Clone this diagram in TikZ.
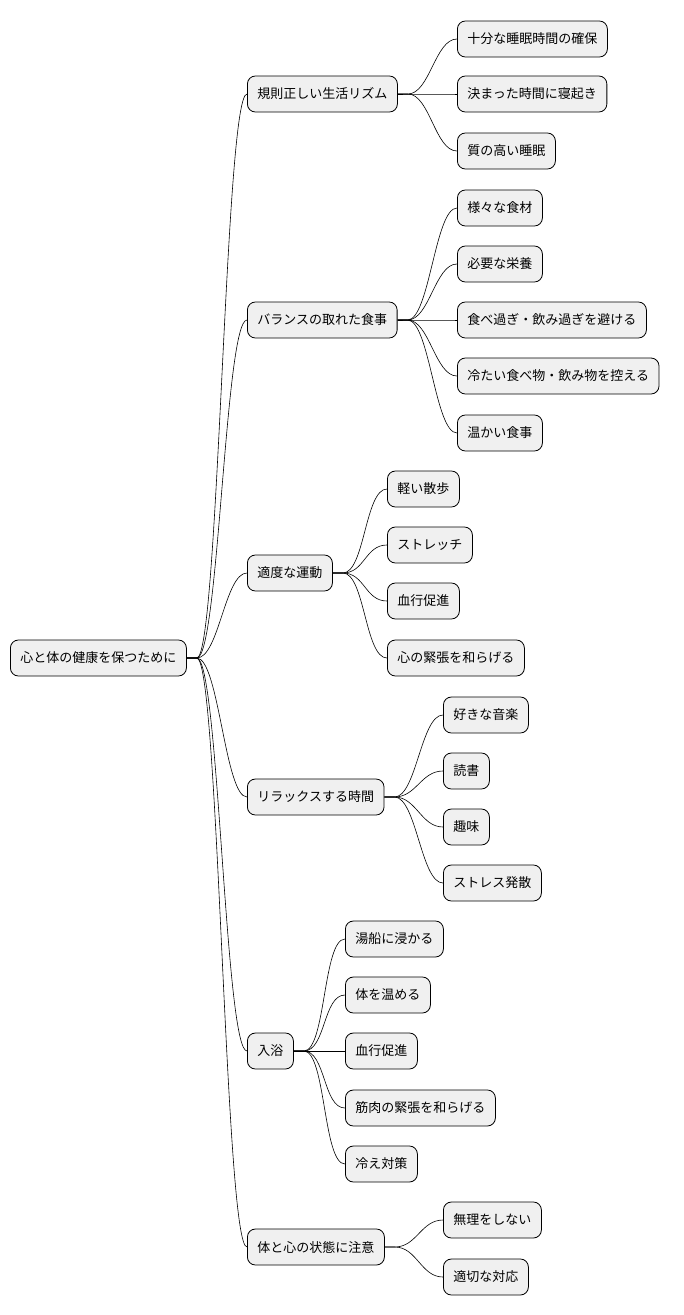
\documentclass[tikz,border=0pt]{standalone}
\usepackage{fontspec}
\newfontfamily\jp{Noto Sans CJK JP}
\begin{document}
\begin{tikzpicture}[x=1pt,y=-1pt,
  box/.style={draw=black,line width=0.8pt,fill=gray!12,rounded corners=8pt,minimum height=36pt,inner xsep=10pt,anchor=west,font=\jp\fontsize{13}{15}\selectfont},
  edge/.style={line width=0.6pt}]
\useasboundingbox (0,0) rectangle (684,1315);
\node[box] (r) at (10,658) {心と体の健康を保つために};
\node[box] (a) at (247,94) {規則正しい生活リズム};
\node[box] (b) at (247,320) {バランスの取れた食事};
\node[box] (c) at (247,573) {適度な運動};
\node[box] (d) at (247,797) {リラックスする時間};
\node[box] (e) at (247,1051) {入浴};
\node[box] (f) at (247,1247) {体と心の状態に注意};
\foreach \n in {a,b,c,d,e,f}{\draw[edge] (r.east) -- ++(10,0) .. controls +(22,0) and +(-22,0) .. (\n.west);}
\node[box] (a1) at (457,39) {十分な睡眠時間の確保};
\node[box] (a2) at (457,94) {決まった時間に寝起き};
\node[box] (a3) at (457,151) {質の高い睡眠};
\node[box] (b1) at (457,208) {様々な食材};
\node[box] (b2) at (457,264) {必要な栄養};
\node[box] (b3) at (457,320) {食べ過ぎ・飲み過ぎを避ける};
\node[box] (b4) at (457,376) {冷たい食べ物・飲み物を控える};
\node[box] (b5) at (457,433) {温かい食事};
\node[box] (c1) at (387,489) {軽い散歩};
\node[box] (c2) at (387,545) {ストレッチ};
\node[box] (c3) at (387,601) {血行促進};
\node[box] (c4) at (387,658) {心の緊張を和らげる};
\node[box] (d1) at (443,715) {好きな音楽};
\node[box] (d2) at (443,771) {読書};
\node[box] (d3) at (443,827) {趣味};
\node[box] (d4) at (443,883) {ストレス発散};
\node[box] (e1) at (345,939) {湯船に浸かる};
\node[box] (e2) at (345,995) {体を温める};
\node[box] (e3) at (345,1051) {血行促進};
\node[box] (e4) at (345,1108) {筋肉の緊張を和らげる};
\node[box] (e5) at (345,1164) {冷え対策};
\node[box] (f1) at (443,1220) {無理をしない};
\node[box] (f2) at (443,1277) {適切な対応};
\foreach \p/\cs in {a/{a1,a2,a3},b/{b1,b2,b3,b4,b5},c/{c1,c2,c3,c4},d/{d1,d2,d3,d4},e/{e1,e2,e3,e4,e5},f/{f1,f2}}{
  \foreach \ch in \cs {\draw[edge] (\p.east) -- ++(10,0) .. controls +(22,0) and +(-22,0) .. (\ch.west);}}
\end{tikzpicture}
\end{document}
